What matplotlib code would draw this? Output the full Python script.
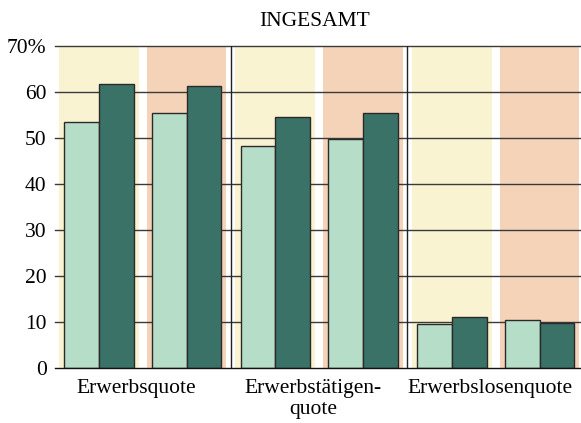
import numpy as np
import matplotlib.pyplot as plt

plt.rcParams['font.family'] = ['Liberation Serif', 'DejaVu Serif']

categories = ["Erwerbsquote", "Erwerbstätigen-\nquote", "Erwerbslosenquote"]
# two panels per category (yellow / salmon background), each with a light and dark bar
light_yellow = [53.5, 48.4, 9.6]
dark_yellow = [61.7, 54.7, 11.2]
light_salmon = [55.4, 49.8, 10.5]
dark_salmon = [61.4, 55.4, 9.8]
yticks = [0, 10, 20, 30, 40, 50, 60, 70]
ytick_labels = ["0", "10", "20", "30", "40", "50", "60", "70%"]

fig = plt.figure(figsize=(5.81, 4.23), dpi=100)
ax = fig.add_axes([0.0947, 0.1293, 0.9053, 0.7612])

x = np.arange(len(categories))
off = 0.248
bw = 0.198
span = 0.453

for xi in x:
    ax.axvspan(xi - off - span / 2, xi - off + span / 2, color="#FAF3D2", lw=0, zorder=0)
    ax.axvspan(xi + off - span / 2, xi + off + span / 2, color="#F5D3B8", lw=0, zorder=0)

for y in yticks[1:]:
    ax.axhline(y, color="#3a3a3a", lw=1.0, zorder=1, clip_on=False)

for s in [0.5, 1.5]:
    ax.axvline(s, color="#222222", lw=1.0, zorder=1)

kw = dict(width=bw, edgecolor="#2a2a2a", linewidth=1.0, zorder=2)
ax.bar(x - off - bw / 2, light_yellow, color="#B5DDC8", **kw)
ax.bar(x - off + bw / 2, dark_yellow, color="#3B7268", **kw)
ax.bar(x + off - bw / 2, light_salmon, color="#B5DDC8", **kw)
ax.bar(x + off + bw / 2, dark_salmon, color="#3B7268", **kw)

ax.set_xlim(-0.497, 2.483)
ax.set_ylim(0, 70)
ax.set_yticks(yticks)
ax.set_yticklabels(ytick_labels, fontsize=15.5)
ax.set_xticks(x - 0.035)
ax.set_xticklabels(categories, fontsize=15.5, linespacing=1.1)
ax.tick_params(axis="y", length=0, pad=6)
ax.tick_params(axis="x", length=0, pad=8)

for side in ["top", "right", "left"]:
    ax.spines[side].set_visible(False)
ax.spines["bottom"].set_color("#111111")
ax.spines["bottom"].set_linewidth(1.0)
ax.spines["bottom"].set_zorder(3)

fig.text(0.541, 0.948, "INGESAMT", fontsize=15.5, ha="center", va="center")

fig.savefig("out.png", dpi=100)
